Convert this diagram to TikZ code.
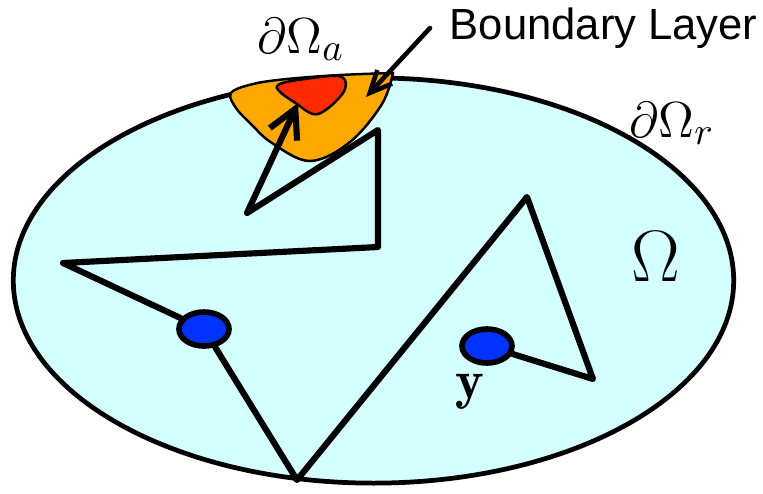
\documentclass[tikz,border=0pt]{standalone}
\usepackage{fontspec}
\newfontfamily\labelfont{Liberation Sans}
\usetikzlibrary{arrows.meta,shapes.geometric}
\definecolor{cyanfill}{RGB}{212,255,255}
\definecolor{layerorange}{RGB}{255,168,0}
\definecolor{corered}{RGB}{255,42,0}
\definecolor{dotblue}{RGB}{0,51,255}

\begin{document}
\begin{tikzpicture}[
  x=0.01cm, y=-0.01cm,
  omegaregion/.style={draw, line width=1.35pt, fill=cyanfill},
  blregion/.style={draw, line width=0.7pt, fill=layerorange},
  absregion/.style={draw, line width=0.7pt, fill=corered},
  walk/.style={line width=1.75pt, line join=round, line cap=round, -{Straight Barb[length=0.28cm, width=0.3cm]}},
  ptr/.style={line width=1.3pt, line cap=round, -{Straight Barb[length=0.22cm, width=0.2cm]}},
  bluedot/.style={ellipse, draw, line width=1.6pt, fill=dotblue, minimum width=0.5cm, minimum height=0.34cm, inner sep=0},
  mathlbl/.style={anchor=base west, inner sep=0, font=\fontsize{15}{18}\selectfont}
]
  \useasboundingbox (0,0) rectangle (763,493);
  % domaine
  \path[omegaregion] (373.5,280.5) ellipse [x radius=3.6cm, y radius=2.025cm];
  % couche limite et partie absorbante
  \path[blregion] plot[smooth, tension=0.6] coordinates {(393,73) (340,75) (287,79) (253,84) (231,93) (236,108) (251,124) (272,143) (310,161) (350,142) (382,104) (393,73)} -- cycle;
  \path[absregion] plot[smooth cycle, tension=0.6] coordinates {(277,86) (312,78) (342,77) (343,93) (318,114) (297,104)};
  % points
  \node[bluedot] (xdot) at (204,329) {};
  \node[bluedot] (ydot) at (487,346) {};
  % sommets du chemin
  \coordinate (p1) at (593,379);
  \coordinate (p2) at (527,197);
  \coordinate (p3) at (297,480);
  \coordinate (p4) at (63,263);
  \coordinate (p5) at (378,247);
  \coordinate (p6) at (378,130);
  \coordinate (p7) at (247,213);
  \coordinate (tip) at (298,103);
  \draw[walk] (ydot) -- (p1) -- (p2) -- (p3) -- (xdot) -- (p4) -- (p5) -- (p6) -- (p7) -- (tip);
  % textes
  \node[mathlbl] (dOa) at (257,53) {$\partial\Omega_a$};
  \node[mathlbl] (dOr) at (629,137) {$\partial\Omega_r$};
  \node[anchor=base west, inner sep=0, font=\fontsize{19.5}{22}\selectfont] (omega) at (631,281) {$\Omega$};
  \node[anchor=base west, inner sep=0, font=\fontsize{15.5}{18}\selectfont] (ylab) at (455,398) {$\mathbf{y}$};
  \node[anchor=west, inner xsep=0.19cm, inner ysep=0, font=\labelfont\fontsize{12.4}{15}\selectfont] (blayer) at (430,28) {Boundary Layer};
  \coordinate (bltip) at (366,97);
  \draw[ptr] (blayer.west) -- (bltip);
\end{tikzpicture}
\end{document}
